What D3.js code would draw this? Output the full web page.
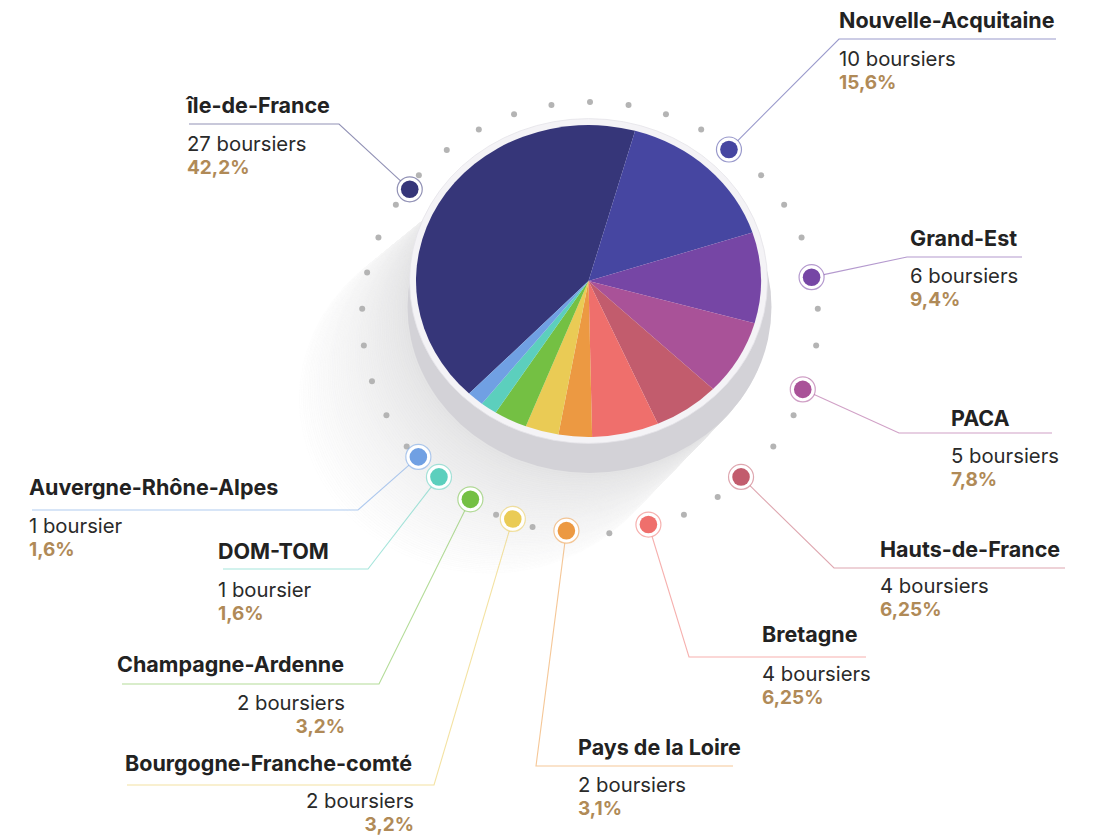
<!DOCTYPE html>
<html>
<head>
<meta charset="utf-8">
<script src="https://cdn.jsdelivr.net/npm/d3@7"></script>
<style>
  html, body { margin: 0; padding: 0; background: #fff; }
  text { font-family: Inter, "Noto Sans", sans-serif; }
</style>
</head>
<body>
<div id="container"></div>
<script>
// Données
const regions = ["île-de-France", "Nouvelle-Acquitaine", "Grand-Est", "PACA", "Hauts-de-France",
  "Bretagne", "Pays de la Loire", "Bourgogne-Franche-comté", "Champagne-Ardenne", "DOM-TOM",
  "Auvergne-Rhône-Alpes"];
const boursiers = [27, 10, 6, 5, 4, 4, 2, 2, 2, 1, 1];
const pourcentages = ["42,2%", "15,6%", "9,4%", "7,8%", "6,25%", "6,25%", "3,1%", "3,2%", "3,2%", "1,6%", "1,6%"];

// Couleurs des parts
const couleurs = ["#363679", "#4646a1", "#7646a5", "#a95298", "#c25c6d", "#ef6f6c",
  "#ec9942", "#eacb55", "#74c043", "#5ccfbd", "#70a0e3"];

// Placement des étiquettes (angle du repère, lignes, textes)
const placement = [
  { a: -53, ex: 339, lx2: 189, ly: 124, tx: 187, anchor: "start", ny: 113, cy: 151 },
  { a: 38, ex: 839, lx2: 1056, ly: 39, tx: 839, anchor: "start", ny: 28, cy: 66 },
  { a: 79, ex: 907, lx2: 1022, ly: 257, tx: 910, anchor: "start", ny: 246, cy: 283 },
  { a: 109.5, ex: 899, lx2: 1052, ly: 433, tx: 951, anchor: "start", ny: 426, cy: 463 },
  { a: 138, ex: 834, lx2: 1065, ly: 568, tx: 880, anchor: "start", ny: 557, cy: 593 },
  { a: 165, ex: 689, lx2: 866, ly: 657, tx: 762, anchor: "start", ny: 642, cy: 681 },
  { a: 186, ex: 536, lx2: 733, ly: 766, tx: 578, anchor: "start", ny: 755, cy: 792 },
  { a: 200, ex: 434, lx2: 127, ly: 785, tx: 125, anchor: "end", rx: 414, ny: 771, cy: 808 },
  { a: 212, ex: 379, lx2: 122, ly: 684, tx: 117, anchor: "end", rx: 345, ny: 672, cy: 710 },
  { a: 222, ex: 368, lx2: 223, ly: 569, tx: 218, anchor: "start", ny: 559, cy: 597 },
  { a: 229.5, ex: 358, lx2: 32, ly: 510, tx: 29, anchor: "start", ny: 495, cy: 533 }
];

const width = 1097;
const height = 836;

// Géométrie du camembert (ellipse vue en perspective)
const cx = 588.5, cy = 281;
const rayon = 172.5, aplat = 156 / 172.5;
// Anneau de points
const ring = { cx: 590, cy: 318, rx: 228, ry: 216 };
const deg = Math.PI / 180;

const svg = d3.select("#container")
  .append("svg")
  .attr("width", width)
  .attr("height", height);

// Ombre portée vers le bas à gauche : couches du plus loin (blanc) au plus près (gris)
const ombre = svg.append("g");
const nOmbre = 60;
const teinte = d3.interpolateRgb("#e3e3e4", "#ffffff");
d3.range(nOmbre, 0, -1).forEach(i => {
  const t = i / nOmbre;
  ombre.append("ellipse")
    .attr("cx", 589.5 - 100 * t)
    .attr("cy", 307 + 92 * t)
    .attr("rx", 182 + 8 * t)
    .attr("ry", 166 + 8 * t)
    .attr("fill", teinte(Math.pow(t, 0.75)))
    .attr("stroke", d3.color(teinte(Math.pow(t, 0.75))).darker(0.04))
    .attr("stroke-width", 0.6);
});

// Points gris autour
const nPoints = 37;
svg.append("g")
  .selectAll("circle")
  .data(d3.range(nPoints))
  .join("circle")
  .attr("cx", k => ring.cx + ring.rx * Math.sin(k * 2 * Math.PI / nPoints))
  .attr("cy", k => ring.cy - ring.ry * Math.cos(k * 2 * Math.PI / nPoints))
  .attr("r", 3)
  .attr("fill", "#b4b4b4");

// Cylindre : flanc gris puis rebord clair
svg.append("ellipse")
  .attr("cx", 589.5).attr("cy", 307)
  .attr("rx", 182).attr("ry", 166)
  .attr("fill", "#d3d2d7");
svg.append("ellipse")
  .attr("cx", cx).attr("cy", cy)
  .attr("rx", rayon + 6.5).attr("ry", (rayon + 6.5) * aplat + 0.5)
  .attr("fill", "#f4f3f6")
  .attr("stroke", "#e4e3e8")
  .attr("stroke-width", 0.8);

// Camembert
const pie = d3.pie()
  .sort(null)
  .value(d => d)
  .startAngle(-136.2 * deg)
  .endAngle(-136.2 * deg + 2 * Math.PI);
const arc = d3.arc().innerRadius(0).outerRadius(rayon);

svg.append("g")
  .attr("transform", `translate(${cx},${cy}) scale(1,${aplat})`)
  .selectAll("path")
  .data(pie(boursiers))
  .join("path")
  .attr("d", arc)
  .attr("fill", (d, i) => couleurs[i]);

// Repères, lignes et étiquettes
const markerPos = p => [
  ring.cx + 0.99 * ring.rx * Math.sin(p.a * deg),
  ring.cy - 0.99 * ring.ry * Math.cos(p.a * deg)
];

const labels = svg.append("g");
regions.forEach((nom, i) => {
  const p = placement[i];
  const [mx, my] = markerPos(p);
  const c = couleurs[i];

  // ligne de rappel : du repère au coude puis horizontale
  const dx = p.ex - mx, dy = p.ly - my;
  const len = Math.hypot(dx, dy);
  const sx = mx + 12.5 * dx / len, sy = my + 12.5 * dy / len;
  labels.append("path")
    .attr("d", `M${sx},${sy}L${p.ex},${p.ly}L${p.lx2},${p.ly}`)
    .attr("fill", "none")
    .attr("stroke", c)
    .attr("stroke-opacity", 0.55)
    .attr("stroke-width", 1.1);

  // repère
  labels.append("circle")
    .attr("cx", mx).attr("cy", my).attr("r", 12.5)
    .attr("fill", "#fff")
    .attr("stroke", c)
    .attr("stroke-opacity", 0.55)
    .attr("stroke-width", 1.2);
  labels.append("circle")
    .attr("cx", mx).attr("cy", my).attr("r", 8.8)
    .attr("fill", c);

  // textes
  labels.append("text")
    .attr("x", p.tx).attr("y", p.ny)
    .attr("font-size", 21.5).attr("font-weight", 700)
    .attr("fill", "#222")
    .text(nom);
  const ax = p.anchor === "end" ? p.rx : p.tx;
  labels.append("text")
    .attr("x", ax).attr("y", p.cy)
    .attr("text-anchor", p.anchor)
    .attr("font-size", 20.3)
    .attr("fill", "#2a2a2a")
    .text(boursiers[i] + (boursiers[i] > 1 ? " boursiers" : " boursier"));
  labels.append("text")
    .attr("x", ax).attr("y", p.cy + 22.5)
    .attr("text-anchor", p.anchor)
    .attr("font-size", 19).attr("font-weight", 700)
    .attr("fill", "#b08a57")
    .text(pourcentages[i]);
});
</script>
</body>
</html>
